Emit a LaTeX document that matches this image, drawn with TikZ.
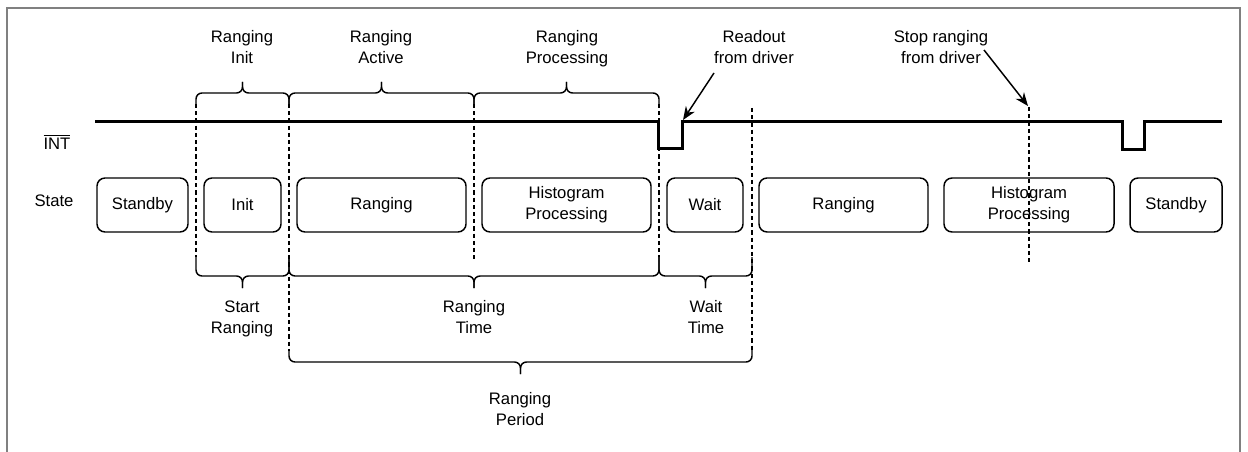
\documentclass[tikz,border=0pt]{standalone}
\usepackage{fontspec}
\setmainfont{Liberation Sans}
\usetikzlibrary{arrows.meta}
\definecolor{framegray}{HTML}{808080}
\newcommand{\tdbrace}[5]{%
  \draw[bracestyle] (#1,#3) -- (#1,#4) -- ({(#1+#2)/2},#4) -- ({(#1+#2)/2},#5);
  \draw[bracestyle] (#2,#3) -- (#2,#4) -- ({(#1+#2)/2},#4) -- ({(#1+#2)/2},#5);
}
\begin{document}
\begin{tikzpicture}[x=0.75pt,y=-0.75pt,
  every node/.style={font=\fontsize{12.5}{15.75}\selectfont, text=black},
  stbox/.style={draw, rounded corners=6pt, line width=1.1pt, minimum height=40.5pt, inner sep=0pt, align=center},
  lbl/.style={align=center, inner sep=0pt, text depth=3pt},
  bracestyle/.style={line width=1.1pt, rounded corners=4.5pt},
  dsh/.style={line width=1.1pt, dash pattern=on 3.2pt off 2.2pt},
  sig/.style={line width=2.25pt, line join=miter},
  arr/.style={line width=1.1pt, -{Stealth[length=10pt,width=8pt]}}
]
\useasboundingbox (0,0) rectangle (1248,452);
% frame
\draw[framegray, line width=1.6pt] (7,460) -- (7,8) -- (1240,8) -- (1240,460);

% left labels
\node[inner sep=0pt] (intl) at (57,142) {$\overline{\hbox{INT}}$};
\node[inner sep=0pt] (statel) at (54,201) {State};

% INT signal
\draw[sig] (95,122) -- (658,122) -- (658,149) -- (682,149) -- (682,122) -- (1122,122) -- (1122,150) -- (1144,150) -- (1144,122) -- (1222,122);

% state boxes
\node[stbox, minimum width=68.25pt] (s1) at (142.5,205) {Standby};
\node[stbox, minimum width=57.75pt] (s2) at (242.5,205) {Init};
\node[stbox, minimum width=126.75pt] (s3) at (381.5,205) {Ranging};
\node[stbox, minimum width=126.75pt] (s4) at (566.5,205) {Histogram\\Processing};
\node[stbox, minimum width=57pt] (s5) at (705,205) {Wait};
\node[stbox, minimum width=126.75pt] (s6) at (843.5,205) {Ranging};
\node[stbox, minimum width=127.5pt] (s7) at (1029,205) {Histogram\\Processing};
\node[stbox, minimum width=69pt] (s8) at (1176,205) {Standby};

% dashed markers
\coordinate (d1t) at (196,104); \coordinate (d1b) at (196,257);
\coordinate (d2t) at (289,104); \coordinate (d2b) at (289,351);
\coordinate (d3t) at (474,104); \coordinate (d3b) at (474,261);
\coordinate (d4t) at (659,104); \coordinate (d4b) at (659,257);
\coordinate (d5t) at (752,108); \coordinate (d5b) at (752,351);
\coordinate (d6t) at (1029,107); \coordinate (d6b) at (1029,262);
\foreach \i in {1,...,6} { \draw[dsh] (d\i t) -- (d\i b); }

% top braces
\tdbrace{196}{289}{104}{93}{82}
\tdbrace{289}{474}{104}{93}{82}
\tdbrace{474}{659}{104}{93}{82}
% bottom braces
\tdbrace{196}{289}{257}{276}{288}
\tdbrace{289}{659}{257}{276}{288}
\tdbrace{659}{752}{257}{276}{288}
\tdbrace{289}{752}{350}{362}{374}

% top labels
\node[lbl] (t1) at (242,49) {Ranging\\Init};
\node[lbl] (t2) at (381,49) {Ranging\\Active};
\node[lbl] (t3) at (567,49) {Ranging\\Processing};
\node[lbl] (t4) at (754,49) {Readout\\from driver};
\node[lbl] (t5) at (941,49) {Stop ranging\\from driver};

% bottom labels
\node[lbl] (b1) at (242,319) {Start\\Ranging};
\node[lbl] (b2) at (474,319) {Ranging\\Time};
\node[lbl] (b3) at (706,319) {Wait\\Time};
\node[lbl] (b4) at (520,411) {Ranging\\Period};

% arrows
\coordinate (a1s) at (714,73); \coordinate (a1e) at (683,120);
\coordinate (a2s) at (984,50); \coordinate (a2e) at (1028,106);
\draw[arr] (a1s) -- (a1e);
\draw[arr] (a2s) -- (a2e);
\end{tikzpicture}
\end{document}
